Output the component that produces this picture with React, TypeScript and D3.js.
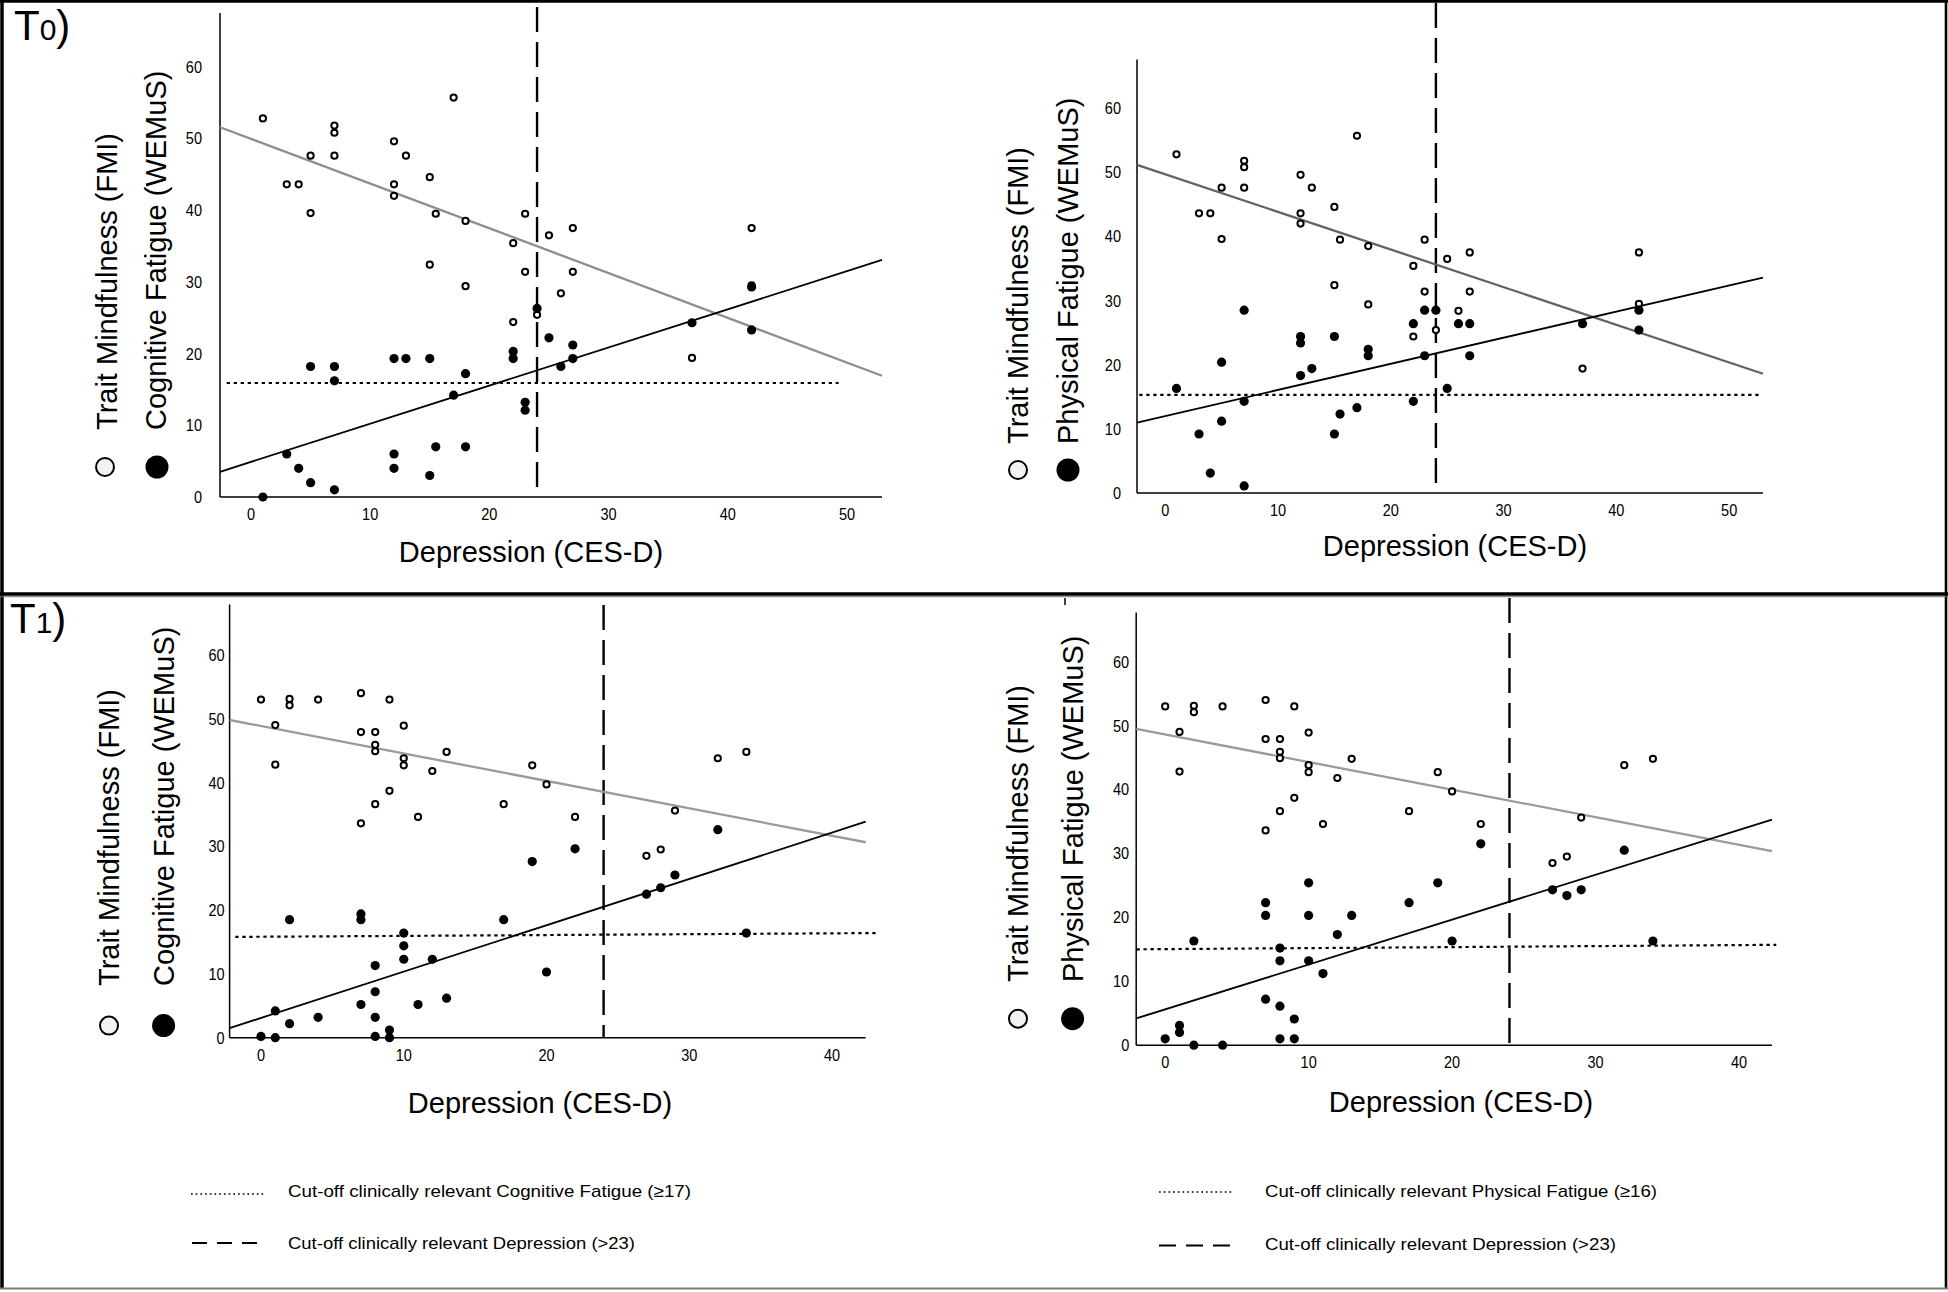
import React from "react";
import * as d3 from "d3";

// ---------- data ----------
const t0Depression = [1, 3, 4, 5, 5, 7, 7, 7, 12, 12, 12, 13, 15, 15, 15.5, 17, 18, 18, 22, 22, 23, 23, 24, 25, 26, 27, 27, 37, 42, 42];
const t0Mindfulness = [52.8, 43.6, 43.6, 47.6, 39.6, 51.8, 50.8, 47.6, 49.6, 43.6, 42.0, 47.6, 44.6, 32.4, 39.5, 55.7, 38.5, 29.4, 35.4, 24.4, 39.5, 31.4, 25.4, 36.5, 28.4, 37.5, 31.4, 19.4, 37.5, 29.5];
const t0CognitiveFatigue = [0, 6, 4, 2, 18.2, 18.2, 16.2, 1, 19.3, 6, 4, 19.3, 19.3, 3, 7, 14.2, 17.2, 7, 20.3, 19.3, 13.2, 12.1, 26.3, 22.2, 18.2, 21.2, 19.3, 24.3, 29.3, 23.3];
const t0PhysicalFatigue = [16.3, 9.2, 3.1, 20.4, 11.2, 28.5, 14.3, 1.1, 24.4, 23.4, 18.3, 19.4, 24.4, 9.2, 12.3, 13.3, 22.4, 21.4, 26.4, 14.3, 28.5, 21.4, 28.5, 16.3, 26.4, 26.4, 21.4, 26.4, 28.5, 25.4];

const t1Depression = [0, 1, 1, 2, 2, 4, 7, 7, 7, 8, 8, 8, 8, 9, 9, 10, 10, 10, 11, 12, 13, 17, 19, 20, 22, 27, 28, 29, 32, 34];
const t1Mindfulness = [53, 49, 42.8, 53.1, 52.1, 53, 54, 47.9, 33.6, 47.9, 45.9, 44.9, 36.6, 53, 38.7, 48.9, 43.8, 42.7, 34.6, 41.8, 44.8, 36.6, 42.7, 39.7, 34.6, 28.5, 29.5, 35.6, 43.8, 44.8];
const t1CognitiveFatigue = [0.2, 0, 4.2, 2.2, 18.5, 3.2, 19.4, 18.5, 5.2, 11.3, 7.2, 3.2, 0.2, 1.2, 0, 16.4, 14.4, 12.3, 5.2, 12.3, 6.2, 18.5, 27.6, 10.3, 29.6, 22.5, 23.5, 25.5, 32.6, 16.4];
const t1PhysicalFatigue = [1, 3.1, 2, 0, 16.3, 0, 22.3, 20.3, 7.2, 15.2, 13.2, 6.1, 1, 4.1, 1, 25.4, 20.3, 13.2, 11.2, 17.3, 20.3, 22.3, 25.4, 16.3, 31.5, 24.3, 23.4, 24.3, 30.5, 16.3];

// fitted lines as drawn: [intercept at depression 0, slope]
const t0CogMindfulnessFit = [49.95, -0.624];
const t0CogFatigueFit = [4.9, 0.532];
const t0PhysMindfulnessFit = [49.7, -0.587];
const t0PhysFatigueFit = [12.0, 0.407];
const t1CogMindfulnessFit = [48.85, -0.43];
const t1CogFatigueFit = [3.1, 0.726];
const t1PhysMindfulnessFit = [48.6, -0.431];
const t1PhysFatigueFit = [5.6, 0.702];

// fatigue cut-off line values at its start and end
const t0CognitiveCutoff = [15.9, 15.9];
const t0PhysicalCutoff = [15.3, 15.3];
const t1CognitiveCutoff = [15.8, 16.4];
const t1PhysicalCutoff = [15.0, 15.7];
const depressionCutoff = 24;

const xTicksT0 = [0, 10, 20, 30, 40, 50];
const xTicksT1 = [0, 10, 20, 30, 40];
const yTicks = [0, 10, 20, 30, 40, 50, 60];

const FONT = "'Liberation Sans', Arial, Helvetica, sans-serif";

type PanelSpec = {
  dep: number[]; fmi: number[]; fat: number[];
  fmiFit: number[]; fatFit: number[];
  cutoff: number[]; cutoffX: number[];
  xTicks: number[];
  fatigueTitle: string;
  left: number; right: number; top: number; bottom: number;
  xDomain: number[]; yMax: number;
  yLabelGap: number;
  grayColor: string;
  dashTop: number;
  titleY: number;
  titleX1: number; titleX2: number;
  symY: number; symX1: number; symX2: number;
  xTitleX: number; xTitleY: number;
};

function Panel({ p }: { p: PanelSpec }) {
  const x = d3.scaleLinear().domain(p.xDomain).range([p.left, p.right]);
  const y = d3.scaleLinear().domain([0, p.yMax]).range([p.bottom, p.top]);
  const line = d3.line<number[]>().x((d) => x(d[0])).y((d) => y(d[1]));
  const fitPts = (f: number[]) => p.xDomain.map((v) => [v, f[0] + f[1] * v]);
  const cutPts = [[p.cutoffX[0], p.cutoff[0]], [p.cutoffX[1], p.cutoff[1]]];
  return (
    <g>
      {/* axes */}
      <line x1={p.left} x2={p.left} y1={p.top} y2={p.bottom} stroke="#000" strokeWidth={1.5} />
      <line x1={p.left} x2={p.right} y1={p.bottom} y2={p.bottom} stroke="#000" strokeWidth={1.5} />
      {yTicks.map((t) => (
        <text key={"y" + t} transform={`translate(${p.left - p.yLabelGap},${y(t) + 6}) scale(0.88,1)`}
          textAnchor="end" fontSize={16.5} fontFamily={FONT} fill="#000">{t}</text>
      ))}
      {p.xTicks.map((t) => (
        <text key={"x" + t} transform={`translate(${x(t)},${p.bottom + 23}) scale(0.88,1)`}
          textAnchor="middle" fontSize={16.5} fontFamily={FONT} fill="#000">{t}</text>
      ))}
      {/* cut-offs */}
      <path d={line(cutPts) || ""} stroke="#000" strokeWidth={2.2} strokeDasharray="3.3,3.7" fill="none" />
      <line x1={x(depressionCutoff)} x2={x(depressionCutoff)} y1={p.dashTop} y2={p.bottom}
        stroke="#000" strokeWidth={2.4} strokeDasharray="25,10" />
      {/* fit lines */}
      <path d={line(fitPts(p.fmiFit)) || ""} stroke={p.grayColor} strokeWidth={2.3} fill="none" />
      <path d={line(fitPts(p.fatFit)) || ""} stroke="#000" strokeWidth={1.8} fill="none" />
      {/* points */}
      {p.dep.map((d, i) => (
        <circle key={"o" + i} cx={x(d)} cy={y(p.fmi[i])} r={3.1} fill="#fff" stroke="#000" strokeWidth={2} />
      ))}
      {p.dep.map((d, i) => (
        <circle key={"f" + i} cx={x(d)} cy={y(p.fat[i])} r={4.6} fill="#000" />
      ))}
      {/* y title */}
      <text transform={`translate(${p.titleX1},${p.titleY}) rotate(-90)`} fontSize={29} fontFamily={FONT} fill="#000">Trait Mindfulness (FMI)</text>
      <text transform={`translate(${p.titleX2},${p.titleY}) rotate(-90)`} fontSize={29} fontFamily={FONT} fill="#000">{p.fatigueTitle}</text>
      <circle cx={p.symX1} cy={p.symY} r={9} fill="#f2f2f2" stroke="#000" strokeWidth={2} />
      <circle cx={p.symX2} cy={p.symY} r={11.5} fill="#000" />
      {/* x title */}
      <text x={p.xTitleX} y={p.xTitleY} textAnchor="middle" fontSize={29} fontFamily={FONT} fill="#000">Depression (CES-D)</text>
    </g>
  );
}

export default function App() {
  const panels: PanelSpec[] = [
    {
      dep: t0Depression, fmi: t0Mindfulness, fat: t0CognitiveFatigue,
      fmiFit: t0CogMindfulnessFit, fatFit: t0CogFatigueFit,
      cutoff: t0CognitiveCutoff, cutoffX: [-2.04, 49.3], xTicks: xTicksT0,
      fatigueTitle: "Cognitive Fatigue (WEMuS)",
      left: 220, right: 882, top: 13, bottom: 497, xDomain: [-2.6, 52.94], yMax: 67.5,
      yLabelGap: 18, grayColor: "#8e8e8e", dashTop: 7,
      titleY: 430, titleX1: 117, titleX2: 166, symY: 467, symX1: 105, symX2: 157,
      xTitleX: 531, xTitleY: 562,
    },
    {
      dep: t0Depression, fmi: t0Mindfulness, fat: t0PhysicalFatigue,
      fmiFit: t0PhysMindfulnessFit, fatFit: t0PhysFatigueFit,
      cutoff: t0PhysicalCutoff, cutoffX: [-2.3, 52.7], xTicks: xTicksT0,
      fatigueTitle: "Physical Fatigue (WEMuS)",
      left: 1137, right: 1763, top: 59.4, bottom: 493, xDomain: [-2.5, 53.0], yMax: 67.6,
      yLabelGap: 16, grayColor: "#5e6661", dashTop: 3,
      titleY: 444, titleX1: 1028, titleX2: 1078, symY: 470, symX1: 1018, symX2: 1068,
      xTitleX: 1455, xTitleY: 556,
    },
    {
      dep: t1Depression, fmi: t1Mindfulness, fat: t1CognitiveFatigue,
      fmiFit: t1CogMindfulnessFit, fatFit: t1CogFatigueFit,
      cutoff: t1CognitiveCutoff, cutoffX: [-1.8, 43.1], xTicks: xTicksT1,
      fatigueTitle: "Cognitive Fatigue (WEMuS)",
      left: 229.6, right: 865.7, top: 604.5, bottom: 1037.7, xDomain: [-2.2, 42.36], yMax: 67.9,
      yLabelGap: 5, grayColor: "#9a9a9a", dashTop: 605,
      titleY: 986, titleX1: 119, titleX2: 174, symY: 1025.6, symX1: 109, symX2: 163.6,
      xTitleX: 540, xTitleY: 1113,
    },
    {
      dep: t1Depression, fmi: t1Mindfulness, fat: t1PhysicalFatigue,
      fmiFit: t1PhysMindfulnessFit, fatFit: t1PhysFatigueFit,
      cutoff: t1PhysicalCutoff, cutoffX: [-2.0, 42.6], xTicks: xTicksT1,
      fatigueTitle: "Physical Fatigue (WEMuS)",
      left: 1136.2, right: 1772, top: 612.4, bottom: 1045.2, xDomain: [-2.02, 42.3], yMax: 67.7,
      yLabelGap: 7, grayColor: "#9a9a9a", dashTop: 598,
      titleY: 982, titleX1: 1028, titleX2: 1083, symY: 1018.7, symX1: 1018, symX2: 1072.6,
      xTitleX: 1461, xTitleY: 1112,
    },
  ];

  return (
    <svg width={1948} height={1292} style={{ position: "absolute", left: 0, top: 0, background: "#fff" }}
      xmlns="http://www.w3.org/2000/svg">
      <rect x={0} y={0} width={1948} height={1292} fill="#fff" />
      {/* frame */}
      <line x1={0} x2={1948} y1={1.3} y2={1.3} stroke="#000" strokeWidth={2.7} />
      <line x1={2} x2={2} y1={0} y2={1289} stroke="#000" strokeWidth={3.5} />
      <line x1={1946} x2={1946} y1={0} y2={1289} stroke="#000" strokeWidth={2.6} />
      <line x1={0} x2={1948} y1={594} y2={594} stroke="#000" strokeWidth={3.5} />
      <line x1={0} x2={1948} y1={596.7} y2={596.7} stroke="#777" strokeWidth={1} />
      <line x1={0} x2={1948} y1={1288.5} y2={1288.5} stroke="#7a7a7a" strokeWidth={2} />
      <line x1={1065} x2={1065} y1={598} y2={605} stroke="#000" strokeWidth={1.5} />

      {/* panel tags */}
      <text x={14} y={40} fontFamily={FONT} fill="#000">
        <tspan fontSize={42}>T</tspan><tspan fontSize={30}>0</tspan><tspan fontSize={42}>)</tspan>
      </text>
      <text x={10} y={633} fontFamily={FONT} fill="#000">
        <tspan fontSize={42}>T</tspan><tspan fontSize={30}>1</tspan><tspan fontSize={42}>)</tspan>
      </text>

      {panels.map((p, i) => <Panel key={i} p={p} />)}

      {/* legends */}
      <line x1={191} x2={264} y1={1194} y2={1194} stroke="#000" strokeWidth={1.6} strokeDasharray="1.7,3" />
      <text x={288} y={1197} fontSize={17} fontFamily={FONT} fill="#000" textLength={403} lengthAdjust="spacingAndGlyphs">Cut-off clinically relevant Cognitive Fatigue (≥17)</text>
      <line x1={192} x2={257} y1={1243} y2={1243} stroke="#000" strokeWidth={2} strokeDasharray="15,10" />
      <text x={288} y={1249} fontSize={17} fontFamily={FONT} fill="#000" textLength={347} lengthAdjust="spacingAndGlyphs">Cut-off clinically relevant Depression (&gt;23)</text>

      <line x1={1159} x2={1233} y1={1192} y2={1192} stroke="#000" strokeWidth={1.6} strokeDasharray="1.7,3" />
      <text x={1265} y={1197} fontSize={17} fontFamily={FONT} fill="#000" textLength={392} lengthAdjust="spacingAndGlyphs">Cut-off clinically relevant Physical Fatigue (≥16)</text>
      <line x1={1159} x2={1230} y1={1245.5} y2={1245.5} stroke="#000" strokeWidth={2} strokeDasharray="17,10" />
      <text x={1265} y={1250} fontSize={17} fontFamily={FONT} fill="#000" textLength={351} lengthAdjust="spacingAndGlyphs">Cut-off clinically relevant Depression (&gt;23)</text>
    </svg>
  );
}
